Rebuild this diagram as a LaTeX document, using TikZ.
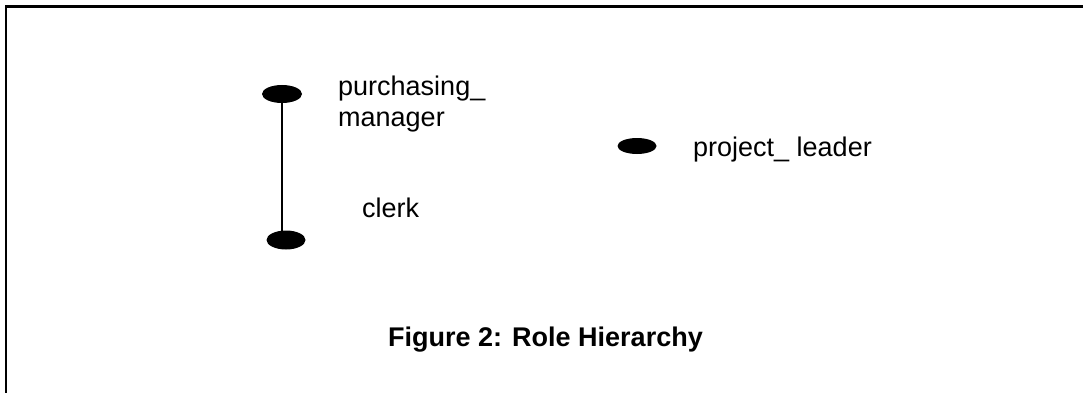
\documentclass[tikz,border=0pt]{standalone}
\usepackage{fontspec}
\setmainfont{Liberation Sans}
\usetikzlibrary{shapes.geometric}
\begin{document}
\begin{tikzpicture}[x=1pt,y=-1pt,
  role/.style={ellipse,fill=black,inner sep=0pt},
  lbl/.style={anchor=base west,inner sep=0pt,font=\fontsize{27}{31}\selectfont},
  captxt/.style={anchor=base west,inner sep=0pt,font=\fontsize{27}{30}\selectfont\bfseries},
  frame/.style={line width=2.5pt}]
\useasboundingbox (0,0) rectangle (1083,393);
\coordinate (tl) at (6,6.5);
\coordinate (tr) at (1083,6.5);
\coordinate (bl) at (6,393);
\draw[frame] (tr) -- (tl) -- (bl);
\node[role,minimum width=40pt,minimum height=18pt] (pm) at (282,94) {};
\node[role,minimum width=39pt,minimum height=19pt] (cl) at (286,240) {};
\node[role,minimum width=39pt,minimum height=16pt] (pl) at (637,146) {};
\draw[line width=1.6pt] (pm.center) -- (pm.center |- cl.center);
\node[lbl,align=left] (pmt) at (338,126.5) {purchasing\_\\manager};
\node[lbl] (clt) at (362,217.5) {clerk};
\node[lbl] (plt) at (693,156) {project\_ leader};
\node[captxt] (capt) at (388,346) {Figure 2: Role Hierarchy};
\end{tikzpicture}
\end{document}
